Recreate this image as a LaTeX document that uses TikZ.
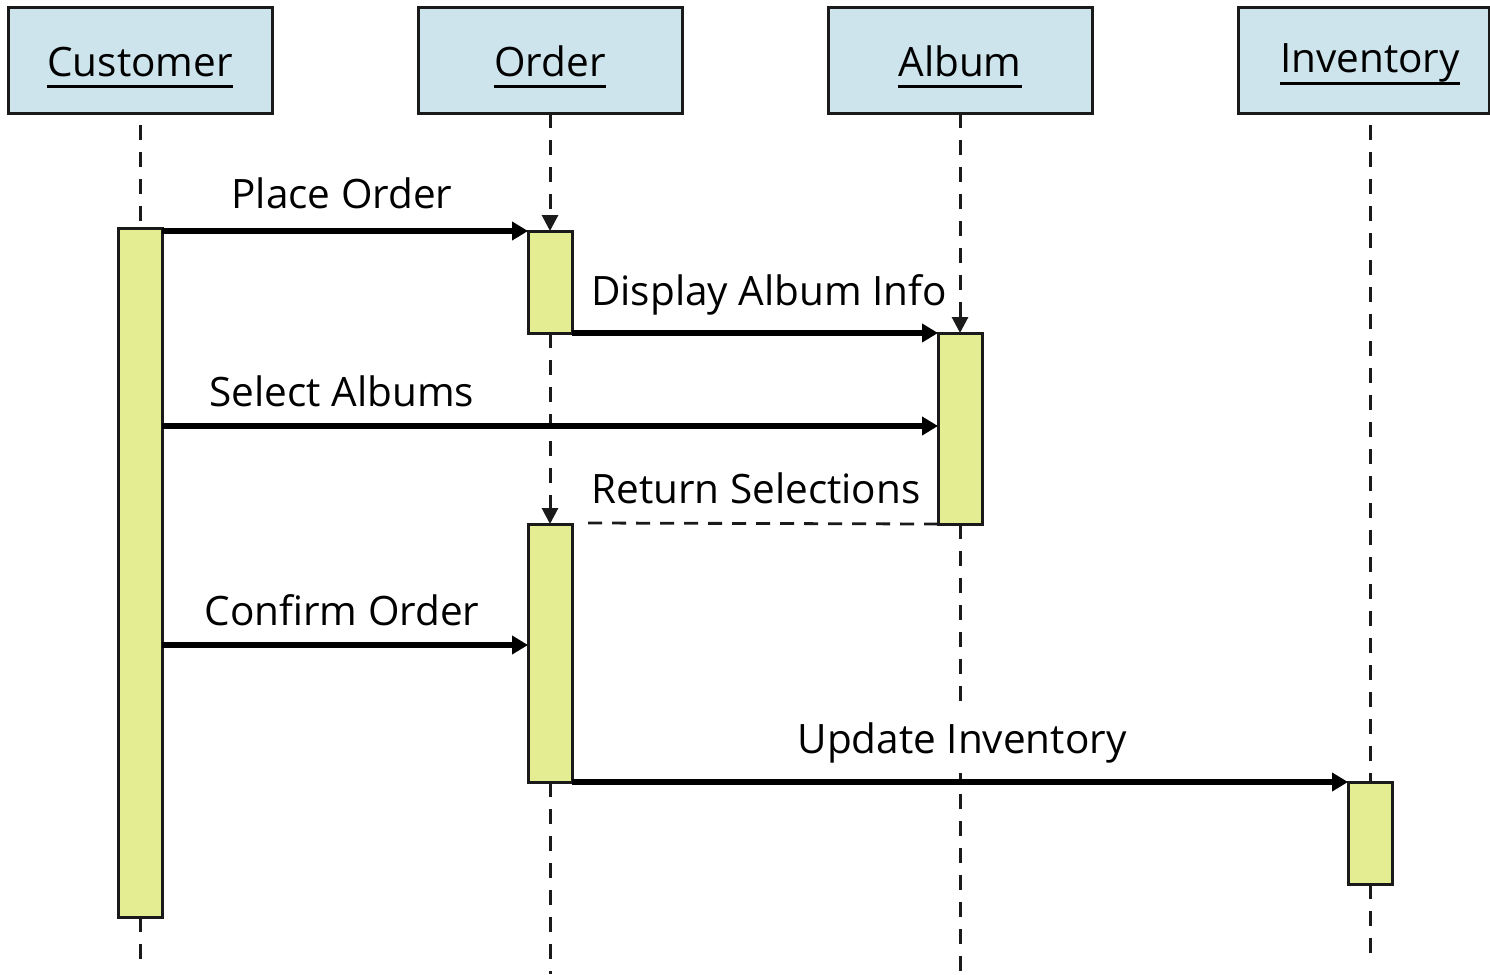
\documentclass[tikz,border=0pt]{standalone}
\usepackage{fontspec}
\setmainfont{Open Sans}
\usetikzlibrary{arrows.meta}
\definecolor{hdrblue}{HTML}{CDE4ED}
\definecolor{actyellow}{HTML}{E4ED92}
\definecolor{ink}{HTML}{1A1A1A}
% underlined object name, rule at a fixed distance below the baseline
\newcommand\ulname[1]{\setbox0=\hbox{#1}\rlap{\rule[-12pt]{\wd0}{2.8pt}}\box0}

\begin{document}
\begin{tikzpicture}[x=1pt,y=-1pt,
  header/.style={draw=ink, line width=3pt, fill=hdrblue, minimum height=105pt, inner sep=0pt, outer sep=0pt, anchor=north west},
  hlabel/.style={anchor=base, font=\fontsize{40.5}{46}\selectfont, inner sep=0pt},
  act/.style={draw=ink, line width=3pt, fill=actyellow, minimum width=44pt, inner sep=0pt, outer sep=0pt, anchor=north},
  life/.style={line width=3pt, draw=ink, dash pattern=on 15pt off 12pt},
  lifearrow/.style={life, -{Triangle[length=16pt,width=16pt]}},
  msg/.style={line width=5.5pt, draw=black, -{Triangle[length=16pt,width=18pt]}},
  reply/.style={line width=2.8pt, draw=ink, dash pattern=on 14pt off 10pt},
  mlabel/.style={anchor=base, font=\fontsize{40.5}{46}\selectfont, inner sep=0pt}]

\useasboundingbox (0,0) rectangle (1490,974);
\fill[white] (0,0) rectangle (1490,974);

% object headers
\node[header, minimum width=264pt] (cust) at (8,8) {};
\node[header, minimum width=264pt] (ord)  at (418,8) {};
\node[header, minimum width=264pt] (alb)  at (828,8) {};
\node[header, minimum width=251pt] (inv)  at (1238,8) {};
\node[hlabel] (custl) at (140,76) {\ulname{Customer}};
\node[hlabel] (ordl)  at (550,76) {\ulname{Order}};
\node[hlabel] (albl)  at (960,76) {\ulname{Album}};
\node[hlabel] (invl)  at (1370,73) {\ulname{Inventory}};

% activation bars
\node[act, minimum height=689pt] (c1) at (140,228) {};
\node[act, minimum height=102pt] (o1) at (550,231) {};
\node[act, minimum height=191pt] (a1) at (960,333) {};
\node[act, minimum height=258pt] (o2) at (550,524) {};
\node[act, minimum height=102pt] (i1) at (1370,782) {};

% lifelines
\coordinate (custend) at (140,964);
\coordinate (ordend)  at (550,974);
\coordinate (albend)  at (960,974);
\coordinate (invend)  at (1370,964);
\coordinate (custtop) at (140,125);
\coordinate (invtop)  at (1370,125);
\draw[life] (custtop) -- (c1.north);
\draw[life] (c1.south) -- (custend);
\draw[lifearrow] (ord.south) -- (o1.north);
\draw[lifearrow] (o1.south) -- (o2.north);
\draw[life] (o2.south) -- (ordend);
\draw[lifearrow] (alb.south) -- (a1.north);
\draw[life] (a1.south) -- (albend);
\draw[life] (invtop) -- (i1.north);
\draw[life] (i1.south) -- (invend);

% message labels
\node[mlabel] (lplace) at (342,208) {Place Order};
\node[mlabel] (ldisp)  at (769,305) {Display Album Info};
\node[mlabel] (lsel)   at (342,406) {Select Albums};
\node[mlabel] (lret)   at (756,503) {Return Selections};
\node[mlabel] (lconf)  at (342,625) {Confirm Order};
\node[mlabel, fill=white, inner ysep=10pt] (lupd) at (962,753) {Update Inventory};

% messages
\coordinate (selY) at (0,426);
\coordinate (confY) at (0,645);
\coordinate (retEnd) at (588,523);
\draw[msg] (c1.east |- o1.north) -- (o1.north west);
\draw[msg] (o1.south east) -- (a1.north west);
\draw[msg] (c1.east |- selY) -- (a1.west |- selY);
\draw[reply] (a1.south west) -- (retEnd);
\draw[msg] (c1.east |- confY) -- (o2.west |- confY);
\draw[msg] (o2.south east) -- (i1.north west);
\end{tikzpicture}
\end{document}
